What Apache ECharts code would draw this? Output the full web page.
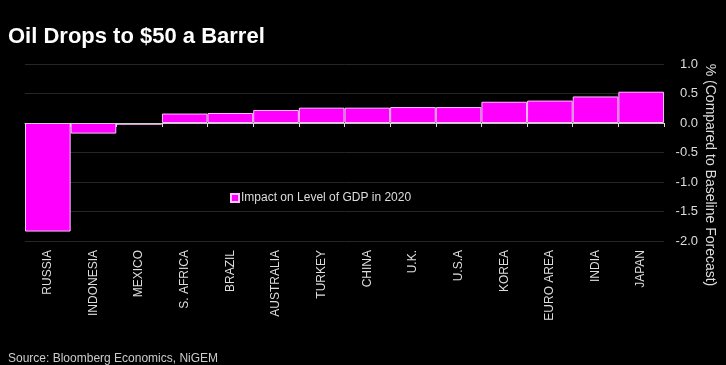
<!DOCTYPE html>
<html><head><meta charset="utf-8">
<script src="https://cdn.jsdelivr.net/npm/echarts@6/dist/echarts.min.js"></script>
<style>html,body{margin:0;padding:0;background:#000;}#c{width:726px;height:365px;}</style>
</head><body><div id="c"></div>
<script>
var categories = ['RUSSIA','INDONESIA','MEXICO','S. AFRICA','BRAZIL','AUSTRALIA','TURKEY','CHINA','U.K.','U.S.A','KOREA','EURO AREA','INDIA','JAPAN'];
var gdpImpact = [-1.84, -0.18, -0.03, 0.16, 0.17, 0.22, 0.26, 0.26, 0.27, 0.27, 0.36, 0.38, 0.45, 0.53];
var seriesName = 'Impact on Level of GDP in 2020';
var yAxisTitle = '% (Compared to Baseline Forecast)';
var yTicks = {min: -2, max: 1, interval: 0.5};

var font = '"Liberation Sans", Arial, sans-serif';
var chart = echarts.init(document.getElementById('c'), null, {renderer: 'canvas'});
chart.setOption({
  backgroundColor: '#000',
  animation: false,
  textStyle: {fontFamily: font},
  title: [
    {text: 'Oil Drops to $50 a Barrel', left: 3, top: 21,
     textStyle: {color: '#fff', fontSize: 22, fontWeight: 'bold', fontFamily: font}},
    {text: 'Source: Bloomberg Economics, NiGEM', left: 3, top: 348,
     textStyle: {color: '#ccc', fontSize: 12, fontWeight: 'normal', fontFamily: font}}
  ],
  graphic: [{
    type: 'text', x: 710, y: 175, rotation: -Math.PI / 2,
    style: {text: yAxisTitle, fill: '#ddd', font: '14px ' + font, textAlign: 'center', textVerticalAlign: 'middle'}
  }],
  legend: {
    data: [seriesName], left: 225, top: 187, icon: 'rect', itemWidth: 8, itemHeight: 8, itemGap: 4,
    textStyle: {color: '#ddd', fontSize: 12, fontFamily: font, padding: [0,0,0,-3]}
  },
  grid: {left: 25, right: 62, top: 64, bottom: 124, outerBoundsMode: 'none', containLabel: false},
  xAxis: [
    {type: 'category', data: categories, position: 'bottom',
     axisLine: {show: false, onZero: false}, axisTick: {show: false},
     axisLabel: {rotate: 90, margin: 9, color: '#ddd', fontSize: 12, fontFamily: font, interval: 0}},
    {type: 'category', data: categories, position: 'bottom',
     axisLine: {show: true, onZero: true, lineStyle: {color: '#ccc', width: 1}},
     axisTick: {show: true, length: 4, lineStyle: {color: '#ddd'}, interval: 0},
     axisLabel: {show: false}, z: 5}
  ],
  yAxis: {
    type: 'value', position: 'right', min: yTicks.min, max: yTicks.max, interval: yTicks.interval,
    axisLine: {show: false}, axisTick: {show: false},
    axisLabel: {color: '#ddd', fontSize: 13, margin: 34, align: 'right', fontFamily: font,
      formatter: function(v){ return v.toFixed(1); }},
    splitLine: {lineStyle: {color: '#262626', width: 1}}
  },
  series: [{
    name: seriesName, type: 'bar', data: gdpImpact, xAxisIndex: 0,
    barCategoryGap: '0%',
    itemStyle: {color: '#ff00ff', borderColor: '#ffc0ff', borderWidth: 1}
  }]
});
</script></body></html>
